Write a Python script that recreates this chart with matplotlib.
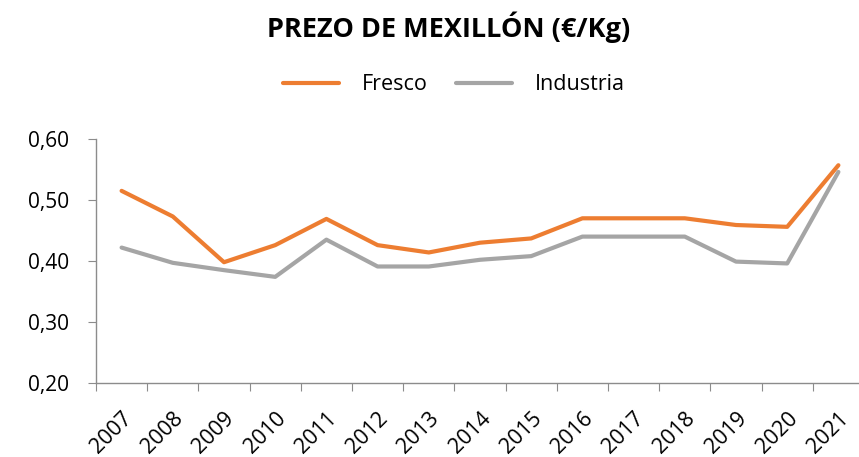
import matplotlib
matplotlib.use("Agg")
from matplotlib import pyplot as plt

years = ["2007", "2008", "2009", "2010", "2011", "2012", "2013", "2014",
         "2015", "2016", "2017", "2018", "2019", "2020", "2021"]
fresco = [0.515, 0.473, 0.398, 0.426, 0.469, 0.426, 0.414, 0.430,
          0.437, 0.470, 0.470, 0.470, 0.459, 0.456, 0.557]
industria = [0.422, 0.397, 0.385, 0.374, 0.435, 0.391, 0.391, 0.402,
             0.408, 0.440, 0.440, 0.440, 0.399, 0.396, 0.546]
yticks = [0.20, 0.30, 0.40, 0.50, 0.60]

plt.rcParams['font.family'] = ['Open Sans', 'DejaVu Sans']

W, H = 859, 457
fig = plt.figure(figsize=(W / 100, H / 100), dpi=100)
ax = fig.add_axes([96 / W, (H - 383) / H, (864 - 96) / W, (383 - 139) / H])

x = range(len(years))
ax.plot(x, fresco, color='#ED7D31', lw=3, solid_capstyle='round', label='Fresco')
ax.plot(x, industria, color='#A5A5A5', lw=3, solid_capstyle='round', label='Industria')

ax.set_xlim(-0.5, len(years) - 0.5)
ax.set_ylim(0.20, 0.60)
ax.set_yticks(yticks)
ax.set_yticklabels([f"{v:.2f}".replace('.', ',') for v in yticks], fontsize=15)

# category ticks sit between the years
ax.set_xticks([i - 0.5 for i in range(len(years) + 1)], minor=False)
ax.set_xticklabels([])
ax.set_xticks(list(x), minor=True)
ax.set_xticklabels(years, minor=True, rotation=45, ha='right',
                   rotation_mode='anchor', fontsize=15.5)
ax.tick_params(axis='x', which='minor', length=0, pad=18)
ax.tick_params(axis='x', which='major', length=6, color='#8C8C8C')
ax.tick_params(axis='y', length=6, color='#8C8C8C', pad=13.5)

for side in ['top', 'right']:
    ax.spines[side].set_visible(False)
for side in ['left', 'bottom']:
    ax.spines[side].set_color('#8C8C8C')
    ax.spines[side].set_linewidth(1)

fig.text(449 / W, 1 - 27 / H, 'PREZO DE MEXILLÓN (€/Kg)', ha='center', va='center',
         fontsize=19.5, fontweight='bold')

fig.legend(loc='center', bbox_to_anchor=(454 / W, 1 - 85 / H), ncol=2, frameon=False,
           fontsize=15.5, handlelength=2.6, columnspacing=1.35, handletextpad=1.05)

fig.savefig('out.png', dpi=100)
